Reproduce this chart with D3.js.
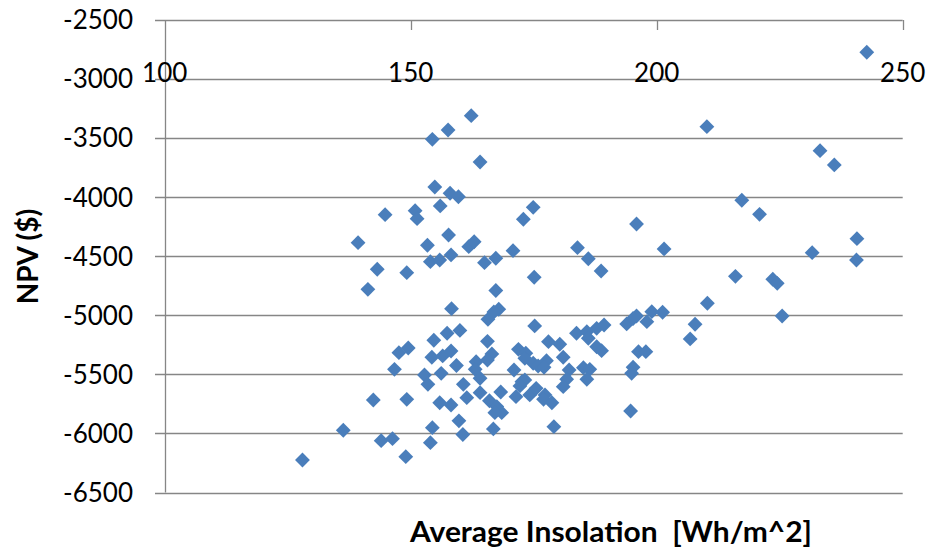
<!DOCTYPE html>
<html>
<head>
<meta charset="utf-8">
<script src="https://cdn.jsdelivr.net/npm/d3@7"></script>
<style>
  body { margin: 0; background: #fff; }
  text { font-family: Lato, "Open Sans", sans-serif; fill: #000; }
</style>
</head>
<body>
<div id="chart"></div>
<script>
// x: average insolation, y: NPV
var insolation = [
  162.3, 157.6, 154.4, 164.1, 154.9, 158.0, 159.7, 156.0, 144.8, 150.9,
  151.3, 174.9, 172.9, 139.3, 157.7, 153.4, 161.8, 162.9, 170.8, 154.0,
  155.9, 158.2, 165.0, 167.3, 143.2, 149.2, 175.1, 141.3, 167.3,
  242.7, 210.2, 233.2, 236.1, 217.3, 220.9, 195.9, 183.9, 186.1, 188.7,
  201.5, 231.6, 240.7, 240.6, 216.0, 223.6, 224.5, 210.3, 225.5, 207.8,
  158.3, 154.7, 157.4, 160.0, 149.5, 147.6, 154.3, 156.5, 158.2, 159.3,
  146.7, 152.8, 153.5, 156.2, 142.4, 149.2, 155.9, 158.2, 159.8, 136.3,
  154.4, 144.0, 146.3, 154.0, 149.0, 128.0, 160.6,
  167.9, 166.9, 165.7, 175.2, 165.6, 166.5, 165.6, 163.3, 163.1, 164.1,
  171.9, 173.4, 173.2, 174.9, 175.9, 177.6, 177.1, 171.0, 178.0, 180.3,
  181.0, 183.7, 185.8, 186.1, 187.8, 189.3, 193.9, 187.8, 188.8, 182.2,
  185.1, 186.4, 185.8, 181.7, 181.0, 160.7, 161.4, 164.1, 168.3, 166.0,
  167.5, 168.5, 167.1, 171.4, 172.6, 173.2, 172.2, 174.2, 175.5, 177.3,
  177.0, 178.7, 166.8, 179.1,
  206.8, 195.9, 199.0, 201.2, 198.0, 196.3, 197.8, 195.2, 194.9, 194.7, 195.2
];
var npv = [
  -3310, -3431, -3510, -3702, -3914, -3967, -3996, -4074, -4148, -4114,
  -4182, -4086, -4187, -4385, -4320, -4407, -4419, -4377, -4453, -4546,
  -4532, -4489, -4554, -4517, -4610, -4639, -4678, -4780, -4790,
  -2773, -3403, -3606, -3727, -4026, -4145, -4227, -4427, -4521, -4625,
  -4438, -4470, -4351, -4532, -4670, -4695, -4729, -4898, -5006, -5076,
  -4944, -5211, -5152, -5128, -5277, -5316, -5355, -5344, -5302, -5425,
  -5457, -5505, -5584, -5491, -5717, -5711, -5740, -5759, -5893, -5973,
  -5951, -6061, -6044, -6078, -6197, -6225, -6009,
  -4949, -4972, -5034, -5090, -5220, -5327, -5378, -5393, -5457, -5533,
  -5288, -5321, -5364, -5406, -5429, -5384, -5440, -5463, -5223, -5245,
  -5355, -5152, -5139, -5194, -5110, -5082, -5073, -5266, -5299, -5463,
  -5443, -5457, -5541, -5541, -5604, -5584, -5697, -5655, -5649, -5723,
  -5773, -5824, -5824, -5689, -5562, -5547, -5598, -5674, -5618, -5674,
  -5711, -5740, -5962, -5943,
  -5200, -5006, -4969, -4974, -5054, -5308, -5308, -5440, -5491, -5810, -5027
];
var xTicks = [100, 150, 200, 250];
var yTicks = [-6500, -6000, -5500, -5000, -4500, -4000, -3500, -3000, -2500];

var width = 930, height = 551;
var gridColor = "#868686";
var markerColor = "#4a7ebb";

var x = d3.scaleLinear().domain([100, 250]).range([164.7, 902.7]);
var y = d3.scaleLinear().domain([-6500, -2500]).range([492.5, 20]);

var svg = d3.select("#chart").append("svg")
  .attr("width", width)
  .attr("height", height);

// horizontal gridlines (the top one doubles as the x axis line)
svg.append("g").selectAll("line").data(yTicks).enter().append("line")
  .attr("x1", 155).attr("x2", x(250))
  .attr("y1", function (d) { return Math.round(y(d)) + 0.5; })
  .attr("y2", function (d) { return Math.round(y(d)) + 0.5; })
  .style("stroke", gridColor)
  .style("stroke-width", 1.3);

// y axis line
svg.append("line")
  .attr("x1", Math.round(x(100)) + 0.5).attr("x2", Math.round(x(100)) + 0.5)
  .attr("y1", y(-2500)).attr("y2", y(-6500))
  .style("stroke", gridColor)
  .style("stroke-width", 1.3);

// x ticks hanging down from the top axis
svg.append("g").selectAll("line").data(xTicks.slice(1)).enter().append("line")
  .attr("x1", function (d) { return Math.round(x(d)) + 0.5; })
  .attr("x2", function (d) { return Math.round(x(d)) + 0.5; })
  .attr("y1", y(-2500)).attr("y2", y(-2500) + 10)
  .style("stroke", gridColor)
  .style("stroke-width", 1.3);

// y tick labels
svg.append("g").selectAll("text").data(yTicks).enter().append("text")
  .attr("x", 133)
  .attr("y", function (d) { return y(d); })
  .attr("dy", "0.36em")
  .attr("text-anchor", "end")
  .style("font-size", "26px")
  .text(function (d) { return d; });

// x tick labels
svg.append("g").selectAll("text").data(xTicks).enter().append("text")
  .attr("x", function (d) { return x(d); })
  .attr("y", 82)
  .attr("text-anchor", "middle")
  .style("font-size", "26px")
  .text(function (d) { return d; });

// axis titles
svg.append("text")
  .attr("transform", "translate(38,256.5) rotate(-90)")
  .attr("text-anchor", "middle")
  .style("font-size", "28px")
  .style("font-weight", "bold")
  .text("NPV ($)");

svg.append("text")
  .attr("x", 611)
  .attr("y", 541.5)
  .attr("text-anchor", "middle")
  .style("font-size", "29px")
  .style("font-weight", "bold")
  .style("white-space", "pre")
  .attr("textLength", 402)
  .attr("lengthAdjust", "spacingAndGlyphs")
  .text("Average Insolation  [Wh/m^2]");

// diamond markers
var diamond = d3.symbol().type(d3.symbolSquare).size(110);
svg.append("g").selectAll("path").data(insolation).enter().append("path")
  .attr("d", diamond)
  .attr("transform", function (d, i) {
    return "translate(" + x(d) + "," + y(npv[i]) + ") rotate(45)";
  })
  .style("fill", markerColor);
</script>
</body>
</html>
